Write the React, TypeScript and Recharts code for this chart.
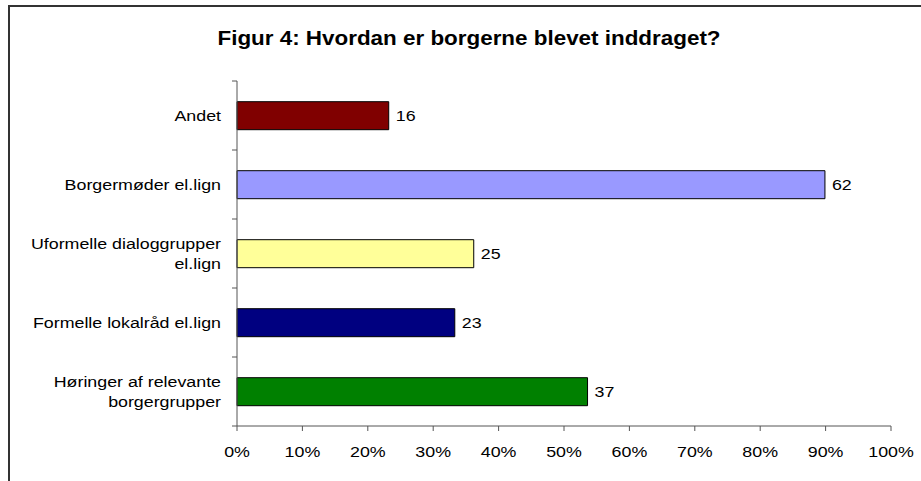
import React from "react";
import { BarChart, Bar, XAxis, YAxis, Cell, LabelList } from "recharts";

const categories = [
  "Andet",
  "Borgermøder el.lign",
  "Uformelle dialoggrupper\nel.lign",
  "Formelle lokalråd el.lign",
  "Høringer af relevante\nborgergrupper",
];
const counts = [16, 62, 25, 23, 37];
const percents = [23.2, 89.9, 36.2, 33.3, 53.6];
const barColors = ["#800000", "#9999FF", "#FFFF99", "#000080", "#008000"];
const xTicks = [0, 10, 20, 30, 40, 50, 60, 70, 80, 90, 100];

const title = "Figur 4: Hvordan er borgerne blevet inddraget?";

const data = categories.map((name, i) => ({
  name,
  pct: percents[i],
  count: counts[i],
}));

const FONT = "'Liberation Sans', Arial, sans-serif";
const STRETCH = 1.15;
const AXIS = "#555";
const CAT_MARGIN = 16;

const XTick = (props: any) => {
  const { x, y, payload } = props;
  return (
    <text
      transform={`translate(${x},${y}) scale(${STRETCH},1)`}
      textAnchor="middle"
      dy="0.71em"
      fontSize={15.5}
      fontFamily={FONT}
      fill="#000"
    >
      {payload.value}%
    </text>
  );
};

// category label, plus Excel-style tick marks on the band edges
const CatTick = (props: any) => {
  const { x, y, payload, index, visibleTicksCount, height } = props;
  const lines = String(payload.value).split("\n");
  const lh = 21;
  const half =
    props.offset && props.offset > 0
      ? props.offset
      : height / visibleTicksCount / 2;
  const ax = x + CAT_MARGIN;
  return (
    <g>
      <line x1={ax - 5} x2={ax} y1={y - half} y2={y - half} stroke={AXIS} />
      {index === visibleTicksCount - 1 && (
        <line x1={ax - 5} x2={ax} y1={y + half} y2={y + half} stroke={AXIS} />
      )}
      <text
        transform={`translate(${x},${y}) scale(${STRETCH},1)`}
        textAnchor="end"
        fontSize={15.5}
        fontFamily={FONT}
        fill="#000"
      >
        {lines.map((l, i) => (
          <tspan
            key={i}
            x={0}
            y={(i - (lines.length - 1) / 2) * lh}
            dy="0.355em"
          >
            {l}
          </tspan>
        ))}
      </text>
    </g>
  );
};

const CountLabel = (props: any) => {
  const { x, y, width, height, value } = props;
  return (
    <text
      transform={`translate(${x + width + 7},${y + height / 2}) scale(${STRETCH},1)`}
      textAnchor="start"
      dy="0.355em"
      fontSize={15.5}
      fontFamily={FONT}
      fill="#000"
    >
      {value}
    </text>
  );
};

const App = () => {
  return (
    <div
      style={{
        position: "absolute",
        left: 0,
        top: 0,
        width: 921,
        height: 481,
        overflow: "hidden",
        background: "#fff",
      }}
    >
      <div
        style={{
          position: "absolute",
          left: 8,
          top: 5,
          width: 1000,
          height: 1000,
          border: "2px solid #333",
        }}
      />
      <svg
        width={921}
        height={60}
        style={{ position: "absolute", left: 0, top: 0 }}
      >
        <text
          transform={`translate(469,45) scale(${STRETCH},1)`}
          textAnchor="middle"
          fontSize={19.5}
          fontWeight="bold"
          fontFamily={FONT}
          fill="#000"
        >
          {title}
        </text>
      </svg>
      <div style={{ position: "absolute", left: 0, top: 0 }}>
        <BarChart
          width={921}
          height={481}
          data={data}
          layout="vertical"
          barCategoryGap="30%"
          margin={{ top: 81, right: 30, bottom: 15, left: 8 }}
        >
          <XAxis
            type="number"
            domain={[0, 100]}
            ticks={xTicks}
            interval={0}
            height={40}
            stroke={AXIS}
            tickSize={5}
            tickMargin={15}
            tick={<XTick />}
          />
          <YAxis
            type="category"
            dataKey="name"
            width={229}
            stroke={AXIS}
            tickLine={false}
            tickSize={0}
            tickMargin={CAT_MARGIN}
            interval={0}
            tick={<CatTick />}
          />
          <Bar
            dataKey="pct"
            stroke="#000"
            strokeWidth={1}
            isAnimationActive={false}
          >
            {data.map((d, i) => (
              <Cell key={d.name} fill={barColors[i]} />
            ))}
            <LabelList dataKey="count" content={<CountLabel />} />
          </Bar>
        </BarChart>
      </div>
    </div>
  );
};

export default App;
